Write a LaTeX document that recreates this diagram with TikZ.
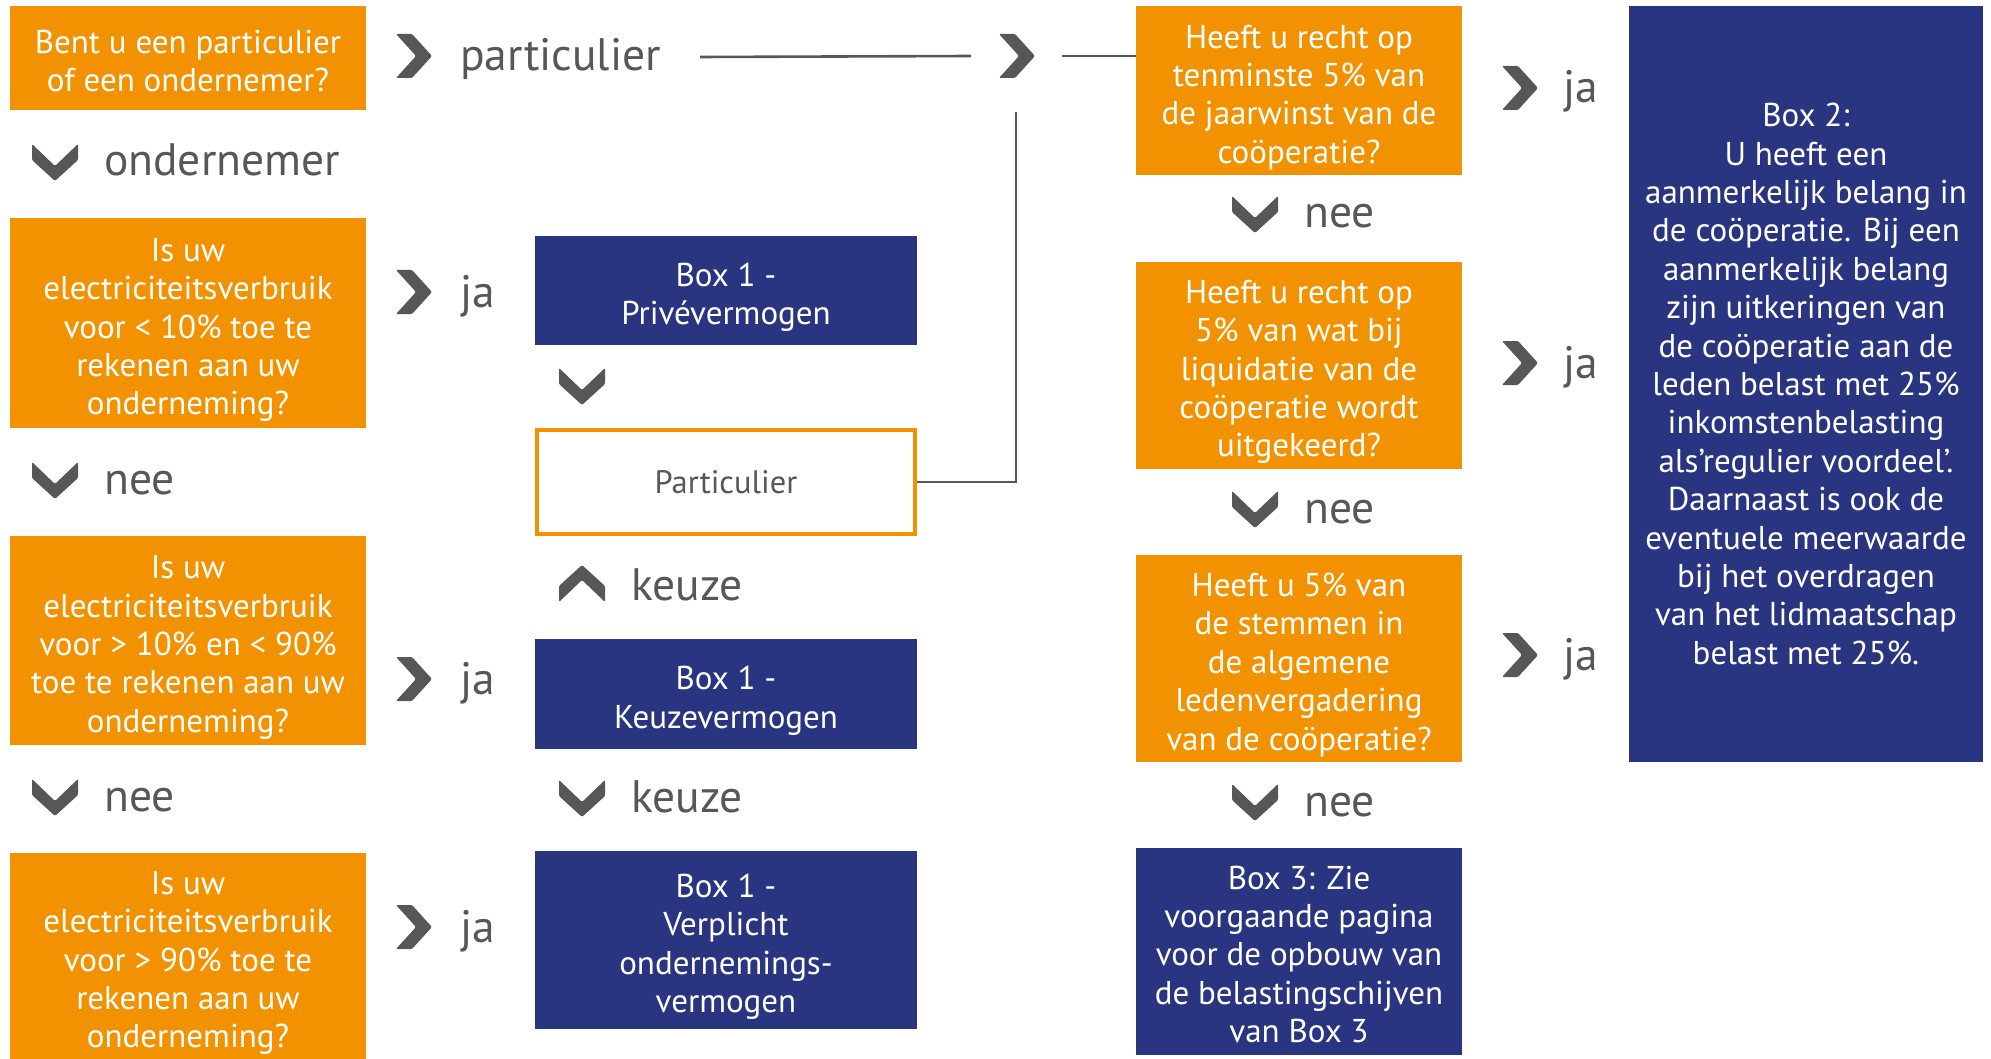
\documentclass[tikz,border=0pt]{standalone}
\usepackage{fontspec}
\setmainfont{PT Sans}
\definecolor{ora}{HTML}{F39200}
\definecolor{nav}{HTML}{2A3582}
\definecolor{gry}{HTML}{575756}
\newcommand\tpad[1]{\rule{0pt}{#1pt}}
\begin{document}
\begin{tikzpicture}[x=1pt,y=-1pt,
  qbox/.style={fill=ora, text=white, align=center, inner sep=0, font=\fontsize{33}{38.4}\selectfont},
  bbox/.style={fill=nav, text=white, align=center, inner sep=0, font=\fontsize{33}{38.4}\selectfont},
  pbox/.style={draw=ora, line width=4pt, fill=white, text=gry, align=center, inner sep=0, font=\fontsize{32.5}{38.4}\selectfont},
  lab/.style={text=gry, anchor=base west, inner sep=0, font=\fontsize{45.5}{50}\selectfont},
  conn/.style={draw=gry, line width=2.6pt},
  chn/.style={minimum width=40pt, minimum height=40pt, inner sep=0},
  chevr/.pic={\fill[gry, rounded corners=1.2pt] (-17,-22) -- (3,0) -- (-17,22) -- (-1,22) -- (19,0) -- (-1,-22) -- cycle;},
  chevd/.pic={\fill[gry, rounded corners=1.2pt] (-23,-17) -- (0,5) -- (23,-17) -- (23,-1) -- (0,20) -- (-23,-1) -- cycle;},
  chevu/.pic={\fill[gry, rounded corners=1.2pt] (-23,17) -- (0,-5) -- (23,17) -- (23,1) -- (0,-20) -- (-23,1) -- cycle;}
]
\useasboundingbox (0,0) rectangle (1991,1059);
\fill[white] (0,0) rectangle (1991,1059);

% left column questions
\node[qbox, minimum width=356pt, minimum height=104pt] (q1) at (188,58) {\tpad{29}Bent u een particulier\\of een ondernemer?};
\node[qbox, minimum width=356pt, minimum height=210pt] (q2) at (188,323) {\tpad{37}Is uw\\electriciteitsverbruik\\voor < 10\% toe te\\rekenen aan uw\\onderneming?};
\node[qbox, minimum width=356pt, minimum height=209pt] (q3) at (188,640.5) {\tpad{37}Is uw\\electriciteitsverbruik\\voor > 10\% en < 90\%\\toe te rekenen aan uw\\onderneming?};
\node[qbox, minimum width=356pt, minimum height=206pt] (q4) at (188,956) {\tpad{37}Is uw\\electriciteitsverbruik\\voor > 90\% toe te\\rekenen aan uw\\onderneming?};

% middle column
\node[bbox, minimum width=382pt, minimum height=109pt] (b1p) at (726,290.5) {\tpad{37}Box 1 -\\Privévermogen};
\node[pbox, minimum width=378pt, minimum height=104pt] (part) at (726,482) {Particulier};
\node[bbox, minimum width=382pt, minimum height=110pt] (b1k) at (726,694) {\tpad{37}Box 1 -\\Keuzevermogen};
\node[bbox, minimum width=382pt, minimum height=178pt] (b1v) at (726,940) {\tpad{37}Box 1 -\\Verplicht\\ondernemings-\\vermogen};

% right column questions
\node[qbox, minimum width=326pt, minimum height=169pt] (qa) at (1299,90.5) {\tpad{37}Heeft u recht op\\tenminste 5\% van\\de jaarwinst van de\\coöperatie?};
\node[qbox, minimum width=326pt, minimum height=207pt] (qb) at (1299,365.5) {\tpad{36}Heeft u recht op\\5\% van wat bij\\liquidatie van de\\coöperatie wordt\\uitgekeerd?};
\node[qbox, minimum width=326pt, minimum height=207pt] (qc) at (1299,658.5) {\tpad{36}Heeft u 5\% van\\de stemmen in\\de algemene\\ledenvergadering\\van de coöperatie?};
\node[bbox, minimum width=326pt, minimum height=207pt] (b3) at (1299,951.5) {\tpad{29}Box 3: Zie\\voorgaande pagina\\voor de opbouw van\\de belastingschijven\\van Box 3};

% box 2
\node[bbox, minimum width=354pt, minimum height=756pt] (b2) at (1806,384) {Box 2:\\U heeft een\\aanmerkelijk belang in\\de coöperatie. Bij een\\aanmerkelijk belang\\zijn uitkeringen van\\de coöperatie aan de\\leden belast met 25\%\\inkomstenbelasting\\als’regulier voordeel’.\\Daarnaast is ook de\\eventuele meerwaarde\\bij het overdragen\\van het lidmaatschap\\belast met 25\%.};

% chevrons
\node[chn] (c1) at (413,56) {}; \pic at (c1) {chevr};
\node[chn] (c2) at (1016,56) {}; \pic at (c2) {chevr};
\node[chn] (d1) at (55,161) {}; \pic at (d1) {chevd};
\node[chn] (r2) at (413,292) {}; \pic at (r2) {chevr};
\node[chn] (d2) at (55,479) {}; \pic at (d2) {chevd};
\node[chn] (d3) at (582,385) {}; \pic at (d3) {chevd};
\node[chn] (u1) at (582,585) {}; \pic at (u1) {chevu};
\node[chn] (r3) at (413,679) {}; \pic at (r3) {chevr};
\node[chn] (d4) at (55,796) {}; \pic at (d4) {chevd};
\node[chn] (d5) at (582,797) {}; \pic at (d5) {chevd};
\node[chn] (r4) at (413,927) {}; \pic at (r4) {chevr};
\node[chn] (r5) at (1519,88) {}; \pic at (r5) {chevr};
\node[chn] (d6) at (1255,213) {}; \pic at (d6) {chevd};
\node[chn] (r6) at (1519,363) {}; \pic at (r6) {chevr};
\node[chn] (d7) at (1255,508) {}; \pic at (d7) {chevd};
\node[chn] (r7) at (1519,655) {}; \pic at (r7) {chevr};
\node[chn] (d8) at (1255,801) {}; \pic at (d8) {chevd};

% labels
\node[lab] (lpart) at (460,71) {particulier};
\node[lab] (lond) at (104,176) {ondernemer};
\node[lab] (lja2) at (460,307) {ja};
\node[lab] (lnee2) at (104,494) {nee};
\node[lab] (lkeu1) at (631,600) {keuze};
\node[lab] (lja3) at (460,694) {ja};
\node[lab] (lnee4) at (104,811) {nee};
\node[lab] (lkeu2) at (631,812) {keuze};
\node[lab] (lja4) at (460,942) {ja};
\node[lab] (lja5) at (1563,103) {ja};
\node[lab] (lnee6) at (1304,228) {nee};
\node[lab] (lja6) at (1563,378) {ja};
\node[lab] (lnee7) at (1304,523) {nee};
\node[lab] (lja7) at (1563,670) {ja};
\node[lab] (lnee8) at (1304,816) {nee};

% connectors
\coordinate (l1s) at (700,57);
\draw[conn] (l1s) -- ([xshift=-45pt]c2.center);
\draw[conn] ([xshift=46pt]c2.center) -- (qa.west |- c2);
\coordinate (vtop) at (1016,112);
\draw[conn] (vtop) |- (part.east);
\end{tikzpicture}
\end{document}
